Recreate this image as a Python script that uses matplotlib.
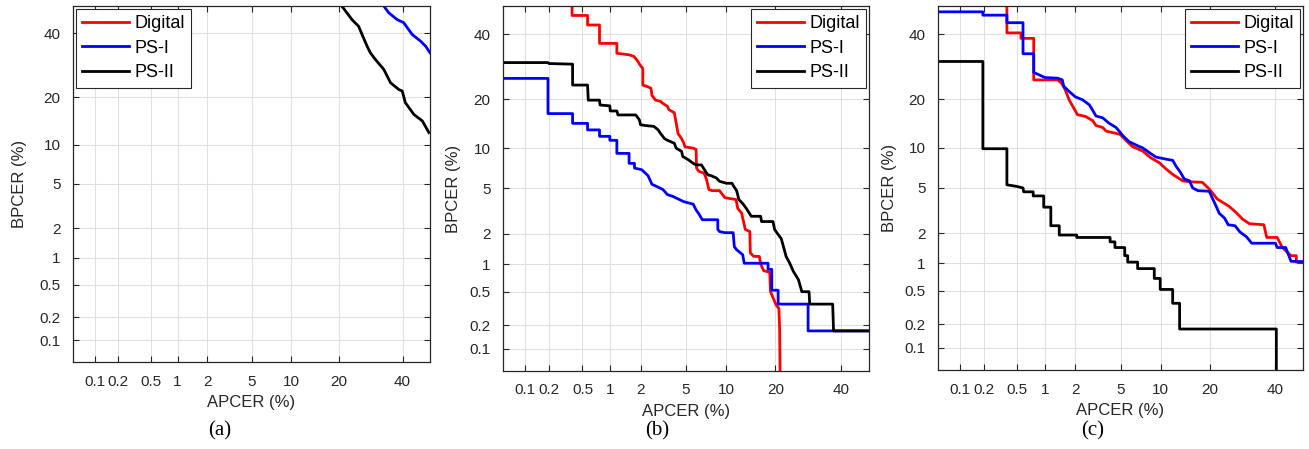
import math
from statistics import NormalDist
import numpy as np
import matplotlib
matplotlib.use("Agg")
import matplotlib.pyplot as plt

plt.rcParams["font.family"] = ["Liberation Sans", "DejaVu Sans"]

# DET curves, APCER / BPCER in percent
ticks = [0.1, 0.2, 0.5, 1, 2, 5, 10, 20, 40]
tick_labels = ["0.1", "0.2", "0.5", "1", "2", "5", "10", "20", "40"]
names = ["Digital", "PS-I", "PS-II"]
colors = ["red", "blue", "black"]

# (a)
a_dig_x = []
a_dig_y = []
a_ps1_x = [33.5, 35.2, 38.1, 40.4, 43.5, 46.5, 48.4, 50.0]
a_ps1_y = [50.0, 47.5, 45.0, 43.9, 39.6, 37.3, 35.5, 33.3]
a_ps2_x = [20.8, 23.6, 25.5, 28.1, 29.1, 30.7, 33.5, 35.8, 38.7, 39.9, 41.0, 44.1, 47.2, 49.6]
a_ps2_y = [50.0, 45.0, 42.6, 35.5, 33.3, 31.1, 27.9, 23.9, 22.0, 21.6, 18.6, 15.8, 14.4, 12.1]

# (b)
b_dig_x = [0.38, 0.38, 0.57, 0.57, 0.77, 0.77, 1.17, 1.17, 1.55, 1.72, 1.85, 1.98, 2.1, 2.1,
           2.35, 2.5, 2.55, 2.75, 3.05, 3.15, 3.5, 3.6, 4.0, 4.15, 4.3, 4.6, 4.8, 4.9, 5.7,
           6.0, 6.05, 6.3, 6.9, 7.2, 7.5, 7.9, 8.95, 9.2, 9.75, 11.6, 11.9, 12.6, 13.3, 14.2,
           14.3, 15.0, 16.2, 16.5, 17.2, 18.6, 18.8, 20.2, 20.9, 21.1, 21.3]
b_dig_y = [55.0, 46.6, 46.6, 43.2, 43.2, 36.8, 36.8, 33.5, 33.0, 32.5, 31.3, 29.7, 28.7, 23.8,
           23.3, 22.9, 21.0, 19.8, 19.5, 19.1, 18.3, 17.5, 16.8, 14.6, 12.5, 11.6, 10.8, 10.2, 10.0,
           9.8, 7.2, 6.8, 6.6, 5.9, 4.9, 4.8, 4.8, 4.6, 4.2, 4.05, 3.4, 3.1, 2.2, 2.1,
           1.3, 1.2, 1.2, 1.0, 0.85, 0.82, 0.5, 0.35, 0.32, 0.17, 0.01]
b_ps1_x = [0.03, 0.195, 0.195, 0.385, 0.385, 0.57, 0.57, 0.77, 0.77, 0.99, 0.99, 1.17, 1.17,
           1.55, 1.55, 1.75, 1.75, 2.05, 2.35, 2.55, 2.8, 3.2, 3.5, 3.9, 4.75, 5.7, 6.0, 6.3,
           6.7, 8.7, 8.7, 8.95, 9.75, 11.1, 11.3, 11.7, 12.8, 13.1, 18.2, 18.2, 19.1, 19.1,
           20.7, 20.7, 29.2, 29.2, 60.0]
b_ps1_y = [25.7, 25.7, 16.6, 16.6, 14.5, 14.5, 13.2, 13.2, 12.0, 12.0, 11.3, 11.3, 9.2,
           9.2, 7.8, 7.8, 7.2, 7.0, 6.3, 5.4, 5.2, 4.9, 4.45, 4.3, 3.9, 3.7, 3.3, 3.05,
           2.7, 2.7, 2.2, 2.1, 2.05, 2.05, 1.5, 1.4, 1.25, 1.02, 1.02, 0.88, 0.88, 0.52,
           0.52, 0.36, 0.36, 0.17, 0.17]
b_ps2_x = [0.03, 0.195, 0.2, 0.385, 0.385, 0.57, 0.58, 0.77, 0.78, 0.99, 1.0, 1.17, 1.2, 1.8,
           1.9, 1.95, 2.0, 2.35, 2.65, 2.9, 3.05, 3.3, 3.5, 4.0, 4.15, 4.6, 4.7, 5.2, 5.7,
           6.0, 6.6, 6.95, 7.35, 7.8, 8.5, 8.95, 10.0, 10.9, 11.2, 11.7, 12.1, 12.8, 13.5,
           14.5, 16.5, 16.7, 19.4, 19.8, 20.7, 21.5, 22.1, 22.8, 23.8, 24.8, 26.3, 27.3,
           29.5, 29.7, 37.2, 37.5, 60.0]
b_ps2_y = [30.5, 30.5, 30.2, 30.0, 23.8, 23.8, 19.8, 19.8, 18.6, 18.4, 17.2, 17.2, 16.3, 16.3,
           15.6, 15.2, 14.2, 14.0, 13.9, 13.2, 12.5, 11.6, 11.3, 10.8, 10.0, 9.5, 8.75, 8.3, 7.8,
           7.6, 7.6, 7.0, 6.4, 6.3, 6.05, 5.7, 5.5, 5.5, 5.2, 4.8, 4.05, 3.75, 3.4,
           2.9, 2.9, 2.6, 2.6, 2.2, 1.97, 1.8, 1.5, 1.2, 1.02, 0.84, 0.68, 0.5,
           0.5, 0.36, 0.36, 0.17, 0.17]

# (c)
c_dig_x = [0.38, 0.38, 0.55, 0.55, 0.76, 0.76, 1.35, 1.47, 1.6, 1.75, 1.9, 2.1, 2.5, 2.9,
           3.1, 3.55, 3.8, 4.95, 5.6, 6.2, 7.4, 8.5, 9.8, 10.9, 12.0, 13.9, 15.3, 18.2,
           19.9, 22.0, 25.3, 27.3, 29.3, 31.5, 36.2, 37.2, 40.8, 42.6, 45.7, 47.6, 47.6, 55.0]
c_dig_y = [55.0, 40.4, 40.4, 38.5, 38.5, 25.2, 25.2, 24.3, 22.5, 19.8, 18.2, 16.3, 15.9, 15.0,
           14.0, 13.6, 12.9, 12.3, 11.1, 10.2, 9.5, 8.5, 7.8, 7.0, 6.4, 5.7, 5.6, 5.55,
           4.9, 4.05, 3.5, 3.1, 2.7, 2.45, 2.4, 1.82, 1.82, 1.45, 1.2, 1.2, 1.03, 1.03]
c_ps1_x = [0.03, 0.195, 0.195, 0.38, 0.38, 0.58, 0.58, 0.76, 0.76, 1.0, 1.35, 1.5, 1.55, 1.75,
           2.0, 2.35, 2.7, 2.85, 3.1, 3.55, 4.0, 4.6, 5.25, 5.85, 7.0, 7.4, 8.3, 9.25, 10.9,
           12.0, 12.6, 13.5, 14.2, 15.3, 16.0, 17.2, 19.9, 20.8, 21.7, 22.5, 24.0, 25.0,
           27.0, 28.5, 30.5, 32.2, 40.2, 40.8, 43.8, 45.7, 55.0]
c_ps1_y = [47.9, 47.9, 46.7, 46.7, 44.0, 44.0, 33.3, 33.3, 27.4, 25.9, 25.7, 25.2, 23.4, 22.0,
           20.6, 19.8, 18.6, 17.6, 16.0, 15.6, 14.5, 13.6, 12.0, 11.0, 10.2, 10.0, 9.25, 8.6, 8.3,
           8.15, 7.4, 6.6, 5.9, 5.7, 5.0, 4.75, 4.7, 4.05, 3.5, 3.05, 2.75, 2.4,
           2.35, 2.05, 1.85, 1.6, 1.6, 1.45, 1.45, 1.05, 1.03]
c_ps2_x = [0.03, 0.195, 0.195, 0.38, 0.38, 0.49, 0.58, 0.59, 0.75, 0.75, 0.97, 0.97, 1.15, 1.15,
           1.4, 1.4, 2.07, 2.07, 4.1, 4.1, 4.5, 4.5, 5.4, 5.4, 5.7, 5.7, 6.8, 6.8, 9.0, 9.0,
           9.9, 9.9, 12.0, 12.0, 13.3, 13.3, 40.5, 40.5]
c_ps2_y = [30.8, 30.8, 9.85, 9.85, 5.3, 5.15, 5.0, 4.65, 4.65, 4.3, 4.3, 3.45, 3.45, 2.35,
           2.35, 1.92, 1.92, 1.82, 1.82, 1.65, 1.65, 1.45, 1.45, 1.2, 1.2, 1.03, 1.03, 0.88, 0.88, 0.69,
           0.69, 0.52, 0.52, 0.36, 0.36, 0.175, 0.175, 0.01]

panels = [
    ("(a)", [(a_dig_x, a_dig_y), (a_ps1_x, a_ps1_y), (a_ps2_x, a_ps2_y)], "upper left"),
    ("(b)", [(b_dig_x, b_dig_y), (b_ps1_x, b_ps1_y), (b_ps2_x, b_ps2_y)], "upper right"),
    ("(c)", [(c_dig_x, c_dig_y), (c_ps1_x, c_ps1_y), (c_ps2_x, c_ps2_y)], "upper right"),
]

_nd = NormalDist()


def probit(p):
    p = np.atleast_1d(np.asarray(p, dtype=float)) / 100.0
    out = np.full(p.shape, np.nan)
    ok = np.isfinite(p)
    out[ok] = [_nd.inv_cdf(v) for v in np.clip(p[ok], 1e-9, 1 - 1e-9)]
    return out


def unprobit(z):
    z = np.atleast_1d(np.asarray(z, dtype=float))
    return 50.0 * (1.0 + np.vectorize(math.erf, otypes=[float])(z / math.sqrt(2)))


# axes boxes in pixels: left, top, right, bottom
boxes = [(73, 6, 430, 362), (503, 6, 869, 371), (938, 6, 1303, 370)]
ylabel_x = [18, 452, 888]
sub_x = [220, 657, 1093]
W, H = 1309, 449

fig = plt.figure(figsize=(W / 100, H / 100), dpi=100)
for (title, series, loc), (l, t, r, b), yx, sx in zip(panels, boxes, ylabel_x, sub_x):
    ax = fig.add_axes([l / W, 1 - b / H, (r - l) / W, (b - t) / H])
    ax.set_xscale("function", functions=(probit, unprobit))
    ax.set_yscale("function", functions=(probit, unprobit))
    for (x, y), name, c in zip(series, names, colors):
        ax.plot(x, y, color=c, lw=2.0, label=name)
    ax.set_xlim(0.05, 50)
    ax.set_ylim(0.05, 50)
    ax.set_xticks(ticks)
    ax.set_xticklabels(tick_labels)
    ax.set_yticks(ticks)
    ax.set_yticklabels(tick_labels)
    ax.minorticks_off()
    ax.grid(True, color="#e0e0e0", lw=0.8)
    ax.set_axisbelow(True)
    ax.tick_params(direction="in", top=True, right=True, length=4, width=0.8,
                   labelsize=11, colors="#262626", pad=9)
    for s in ax.spines.values():
        s.set_color("#262626")
        s.set_linewidth(0.9)
    ax.set_xlabel("APCER (%)", fontsize=12, color="#262626", labelpad=5)
    ax.set_ylabel("BPCER (%)", fontsize=12, color="#262626")
    ax.yaxis.set_label_coords((yx + 9 - l) / (r - l), 0.5)
    leg = ax.legend(loc=loc, fontsize=13, handlelength=2.6, borderaxespad=0.15,
                    labelspacing=0.42, handletextpad=0.3, borderpad=0.35,
                    fancybox=False, framealpha=1)
    leg.get_frame().set_edgecolor("#262626")
    leg.get_frame().set_linewidth(0.8)
    fig.text(sx / W, 1 - 431 / H, title, family="Liberation Serif", fontsize=15,
             ha="center", va="center")

fig.savefig("out.png", dpi=100)
